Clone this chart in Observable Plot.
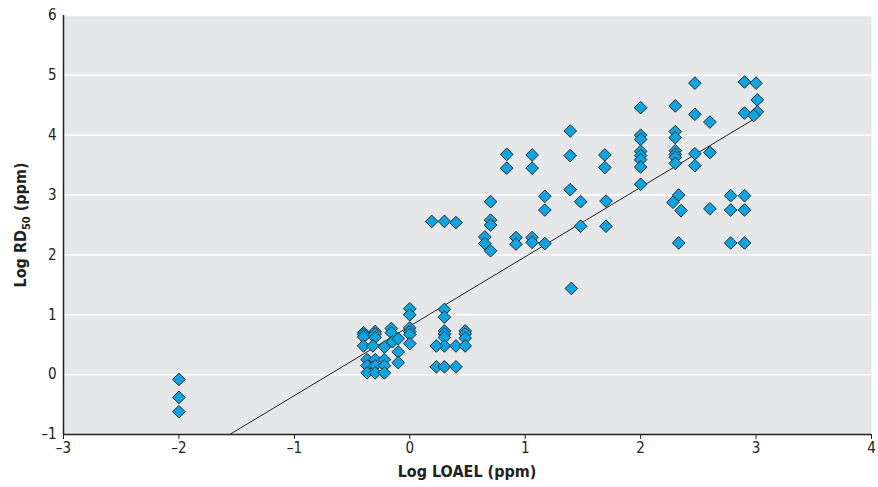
<!DOCTYPE html>
<html><head><meta charset="utf-8">
<script src="https://cdn.jsdelivr.net/npm/d3@7"></script>
<script src="https://cdn.jsdelivr.net/npm/@observablehq/plot@0.6"></script>
<style>
body{margin:0;background:#fff;}
#chart svg{display:block;}
</style></head><body><div id="chart"></div>
<script>
// Data
const logLOAEL = [
  -2, -2, -2,
  -0.4, -0.4, -0.4, -0.4, -0.3, -0.3, -0.3, -0.32, -0.22,
  -0.16, -0.16, -0.15, -0.1, -0.1, -0.1,
  -0.37, -0.37, -0.37, -0.3, -0.3, -0.3, -0.22, -0.22, -0.22,
  0, 0, 0, 0, 0, 0,
  0.3, 0.3, 0.3, 0.3, 0.3, 0.3, 0.23, 0.4, 0.48, 0.48, 0.48, 0.48, 0.23, 0.3, 0.4,
  0.19, 0.3, 0.4,
  0.65, 0.65, 0.7, 0.7, 0.7, 0.7,
  0.84, 0.84, 0.92, 0.92,
  1.06, 1.06, 1.06, 1.06,
  1.17, 1.17, 1.17,
  1.39, 1.39, 1.39, 1.4,
  1.48, 1.48,
  1.69, 1.69, 1.7, 1.7,
  2, 2, 2, 2, 2, 2, 2, 2,
  2.3, 2.3, 2.3, 2.3, 2.3, 2.3, 2.3,
  2.28, 2.33, 2.35, 2.33,
  2.47, 2.47, 2.47, 2.47,
  2.6, 2.6, 2.6,
  2.78, 2.78, 2.78,
  2.9, 2.9, 2.9, 2.9, 2.9,
  3.0, 3.01, 3.01, 2.98
];
const logRD50 = [
  -0.08, -0.38, -0.62,
  0.70, 0.67, 0.63, 0.48, 0.72, 0.68, 0.62, 0.48, 0.46,
  0.77, 0.70, 0.55, 0.60, 0.38, 0.20,
  0.25, 0.15, 0.03, 0.25, 0.15, 0.03, 0.25, 0.15, 0.03,
  1.10, 1.00, 0.78, 0.72, 0.67, 0.52,
  1.09, 0.96, 0.73, 0.68, 0.62, 0.48, 0.48, 0.48, 0.73, 0.68, 0.61, 0.48, 0.13, 0.13, 0.13,
  2.56, 2.56, 2.54,
  2.30, 2.19, 2.89, 2.58, 2.50, 2.07,
  3.68, 3.45, 2.29, 2.18,
  3.67, 3.45, 2.29, 2.21,
  2.98, 2.75, 2.19,
  4.07, 3.66, 3.09, 1.44,
  2.89, 2.48,
  3.67, 3.46, 2.90, 2.48,
  4.46, 4.00, 3.93, 3.73, 3.66, 3.59, 3.47, 3.18,
  4.49, 4.06, 3.96, 3.74, 3.68, 3.63, 3.53,
  2.88, 3.00, 2.74, 2.20,
  4.87, 4.35, 3.69, 3.49,
  4.22, 3.71, 2.77,
  2.99, 2.75, 2.20,
  4.89, 4.37, 2.99, 2.75, 2.20,
  4.87, 4.59, 4.39, 4.33
];
// Regression line
const fitIntercept = 0.81;
const fitSlope = 1.16;
const fitRange = [-1.56, 3.0];

const xTicks = [-3, -2, -1, 0, 1, 2, 3, 4];
const yTicks = [-1, 0, 1, 2, 3, 4, 5, 6];

const points = logLOAEL.map((x, i) => ({x, y: logRD50[i]}));
const fitLine = fitRange.map(x => ({x, y: fitIntercept + fitSlope * x}));
const fmt = d => d < 0 ? "\u2013" + Math.abs(d) : String(d);

const FONT = "'Liberation Sans Narrow', 'DejaVu Sans Condensed', 'Arial Narrow', sans-serif";

const chart = Plot.plot({
  width: 878,
  height: 487,
  marginTop: 15,
  marginRight: 7,
  marginBottom: 53,
  marginLeft: 63,
  style: {fontFamily: FONT, fontSize: "15px", color: "#222", background: "#fff"},
  x: {domain: [-3, 4]},
  y: {domain: [-1, 6]},
  marks: [
    Plot.frame({fill: "#e6e7e8", stroke: null}),
    Plot.gridY(yTicks, {stroke: "#fff", strokeOpacity: 1, strokeWidth: 1.5}),
    Plot.axisX({ticks: xTicks, tickSize: 5, tickPadding: 3, tickFormat: fmt, label: null, fontSize: 15, stroke: "#222"}),
    Plot.axisY({ticks: yTicks, tickSize: 0, tickPadding: 7, tickFormat: fmt, label: null, fontSize: 15}),
    Plot.ruleY([-1], {stroke: "#222", strokeWidth: 1.5}),
    Plot.ruleX([-3], {stroke: "#222", strokeWidth: 1.5}),
    Plot.line(fitLine, {x: "x", y: "y", stroke: "#222", strokeWidth: 1}),
    Plot.dot(points, {x: "x", y: "y", symbol: "diamond2", r: 5.7, fill: "#0aa5e2", fillOpacity: 1, stroke: "#2a2a2a", strokeWidth: 1})
  ]
});

const svg = d3.select(chart);
svg.append("text")
  .attr("x", (63 + 871) / 2)
  .attr("y", 477)
  .attr("text-anchor", "middle")
  .attr("font-family", FONT)
  .attr("font-size", 16)
  .attr("font-weight", "bold")
  .attr("fill", "#222")
  .text("Log LOAEL (ppm)");

const yl = svg.append("text")
  .attr("transform", "translate(26,225) rotate(-90)")
  .attr("text-anchor", "middle")
  .attr("font-family", FONT)
  .attr("font-size", 16)
  .attr("font-weight", "bold")
  .attr("fill", "#222");
yl.append("tspan").text("Log RD");
yl.append("tspan").attr("font-size", 11).attr("dy", 4).text("50");
yl.append("tspan").attr("dy", -4).text(" (ppm)");

document.getElementById("chart").appendChild(chart);
</script></body></html>
